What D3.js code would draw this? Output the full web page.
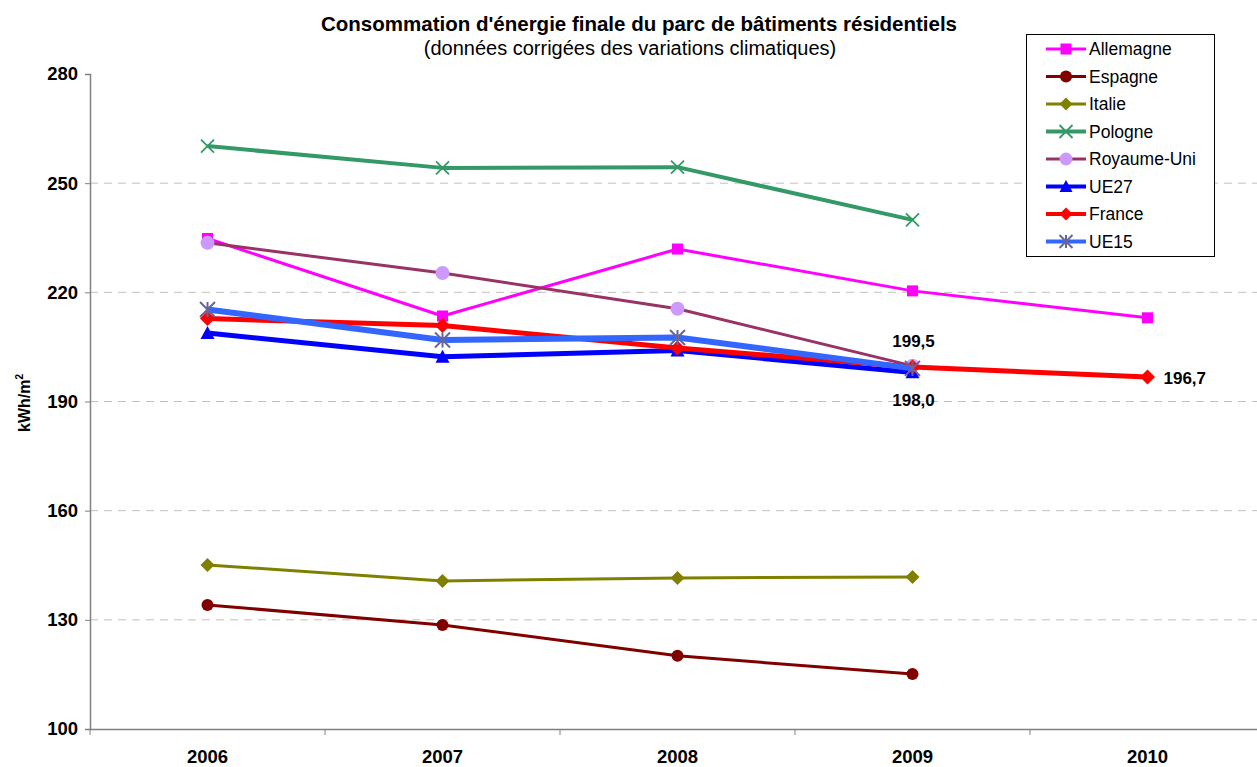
<!DOCTYPE html>
<html><head><meta charset="utf-8">
<script src="https://cdn.jsdelivr.net/npm/d3@7"></script>
<style>
body{margin:0;background:#fff;overflow:hidden}
svg{display:block;font-family:Arial,"Liberation Sans",sans-serif}
</style></head>
<body>
<svg id="c" width="1257" height="767"></svg>
<script>
const years = ["2006","2007","2008","2009","2010"];
const yTicks = [100,130,160,190,220,250,280];
const allemagne = [234.8, 213.5, 231.9, 220.4, 213.0];
const espagne = [134.1, 128.6, 120.1, 115.1, null];
const italie = [145.1, 140.7, 141.5, 141.8, null];
const pologne = [260.2, 254.2, 254.4, 239.9, null];
const royaumeUni = [233.6, 225.3, 215.5, 199.8, null];
const ue27 = [208.8, 202.3, 204.0, 198.0, null];
const france = [212.8, 210.9, 204.7, 199.5, 196.7];
const ue15 = [215.3, 206.9, 207.6, 199.1, null];
const seriesNames = ["Allemagne","Espagne","Italie","Pologne","Royaume-Uni","UE27","France","UE15"];

const styles = {
  "Allemagne":{line:"#FF00FF",w:3,marker:"square",fill:"#FF00FF",size:12},
  "Espagne":{line:"#800000",w:3,marker:"circle",fill:"#800000",size:12},
  "Italie":{line:"#808000",w:3,marker:"diamond",fill:"#808000",size:14},
  "Pologne":{line:"#339966",w:4,marker:"x",fill:"#339966",size:13},
  "Royaume-Uni":{line:"#993366",w:3,marker:"circle",fill:"#CC99FF",size:14},
  "UE27":{line:"#0000FF",w:5,marker:"triangle",fill:"#0000FF",size:14},
  "France":{line:"#FF0000",w:5,marker:"diamond",fill:"#FF0000",size:15},
  "UE15":{line:"#3366FF",w:6,marker:"star",fill:"#666699",size:15}
};
const dataMap = {"Allemagne":allemagne,"Espagne":espagne,"Italie":italie,"Pologne":pologne,
  "Royaume-Uni":royaumeUni,"UE27":ue27,"France":france,"UE15":ue15};

const svg = d3.select("#c");
const m = {l:90, r:1265, t:74, b:729};
const x = d3.scaleBand().domain(years).range([m.l, m.r]);
const y = d3.scaleLinear().domain([100,280]).range([m.b, m.t]);
const cx = d => x(d) + x.bandwidth()/2;
const FONT = "Arial,'Liberation Sans',sans-serif";

// grid
svg.append("g").selectAll("line").data(yTicks.filter(t=>t>100 && t<280)).join("line")
  .attr("x1", m.l).attr("x2", m.r).attr("y1", d=>y(d)).attr("y2", d=>y(d))
  .attr("stroke","#c0c0c0").attr("stroke-width",1).attr("stroke-dasharray","8,6");

// y axis
const ya = svg.append("g").attr("transform",`translate(${m.l},0)`)
  .call(d3.axisLeft(y).tickValues(yTicks).tickSize(5).tickPadding(7).tickFormat(d3.format("d")));
ya.select(".domain").attr("stroke","#808080").attr("stroke-width",1.5);
ya.selectAll(".tick line").attr("stroke","#808080");
ya.selectAll("text").attr("font-size",18.5).attr("font-weight","bold").attr("fill","#000")
  .attr("font-family",FONT);

// x axis
const xa = svg.append("g").attr("transform",`translate(0,${m.b})`)
  .call(d3.axisBottom(x).tickSize(0).tickPadding(21));
xa.select(".domain").attr("stroke","#808080").attr("stroke-width",1.5);
xa.selectAll("text").attr("font-size",18.5).attr("font-weight","bold").attr("fill","#000")
  .attr("font-family",FONT);
svg.append("g").selectAll("line").data(years.slice(1)).join("line")
  .attr("x1",d=>x(d)).attr("x2",d=>x(d)).attr("y1",m.b).attr("y2",m.b+6)
  .attr("stroke","#808080").attr("stroke-width",1);
svg.append("line").attr("x1",m.l).attr("x2",m.l).attr("y1",m.b).attr("y2",m.b+6).attr("stroke","#808080");

// title
svg.append("text").attr("x",639).attr("y",31).attr("text-anchor","middle")
  .attr("font-size",20.5).attr("font-weight","bold").text("Consommation d'énergie finale du parc de bâtiments résidentiels");
svg.append("text").attr("x",630).attr("y",55).attr("text-anchor","middle")
  .attr("font-size",20).text("(données corrigées des variations climatiques)");

// y title
const yt = svg.append("text").attr("transform","translate(30,403) rotate(-90)").attr("text-anchor","middle")
  .attr("font-size",16).attr("font-weight","bold");
yt.append("tspan").text("kWh/m");
yt.append("tspan").attr("font-size",10).attr("dy",-7).text("2");

function drawMarker(g, type, s, fill){
  const h = s/2;
  if(type==="square") g.append("rect").attr("x",-h+0.5).attr("y",-h+0.5).attr("width",s-1).attr("height",s-1).attr("fill",fill);
  else if(type==="circle") g.append("circle").attr("r",h).attr("fill",fill);
  else if(type==="diamond") g.append("path").attr("d",`M0,${-h}L${h},0L0,${h}L${-h},0Z`).attr("fill",fill);
  else if(type==="triangle") g.append("path").attr("d",`M0,${-h}L${h},${h*0.85}L${-h},${h*0.85}Z`).attr("fill",fill);
  else if(type==="x") g.append("path").attr("d",`M${-h},${-h}L${h},${h}M${-h},${h}L${h},${-h}`).attr("stroke",fill).attr("stroke-width",1.8).attr("fill","none");
  else if(type==="star") g.append("path").attr("d",`M${-h},${-h}L${h},${h}M${-h},${h}L${h},${-h}M0,${-h}L0,${h}`).attr("stroke",fill).attr("stroke-width",2).attr("fill","none");
}

const line = d3.line().defined(d=>d.v!=null).x(d=>cx(d.year)).y(d=>y(d.v));
seriesNames.forEach(name=>{
  const st = styles[name];
  const pts = dataMap[name].map((v,i)=>({year:years[i], v}));
  const g = svg.append("g");
  g.append("path").datum(pts).attr("d",line).attr("fill","none")
    .attr("stroke",st.line).attr("stroke-width",st.w).attr("stroke-linejoin","round");
  pts.filter(p=>p.v!=null).forEach(p=>{
    const mg = g.append("g").attr("transform",`translate(${cx(p.year)},${y(p.v)})`);
    drawMarker(mg, st.marker, st.size, st.fill);
  });
});

// data labels
svg.append("text").attr("x",cx("2009")+1).attr("y",y(france[3])-20).attr("text-anchor","middle")
  .attr("font-size",17).attr("font-weight","bold").text("199,5");
svg.append("text").attr("x",cx("2009")+1).attr("y",y(ue27[3])+34).attr("text-anchor","middle")
  .attr("font-size",17).attr("font-weight","bold").text("198,0");
svg.append("text").attr("x",cx("2010")+16).attr("y",y(france[4])+7).attr("text-anchor","start")
  .attr("font-size",17).attr("font-weight","bold").text("196,7");

// legend
const lg = svg.append("g");
lg.append("rect").attr("x",1026.5).attr("y",34.5).attr("width",188).attr("height",222)
  .attr("fill","#fff").attr("stroke","#000").attr("stroke-width",1);
seriesNames.forEach((name,i)=>{
  const st = styles[name];
  const yy = 49 + i*27.5;
  lg.append("line").attr("x1",1046).attr("x2",1086).attr("y1",yy).attr("y2",yy)
    .attr("stroke",st.line).attr("stroke-width",Math.min(st.w,4));
  const mg = lg.append("g").attr("transform",`translate(1066,${yy})`);
  drawMarker(mg, st.marker, Math.min(st.size,13), st.fill);
  lg.append("text").attr("x",1089).attr("y",yy+6).attr("font-size",17.5).text(name);
});
</script>
</body></html>
